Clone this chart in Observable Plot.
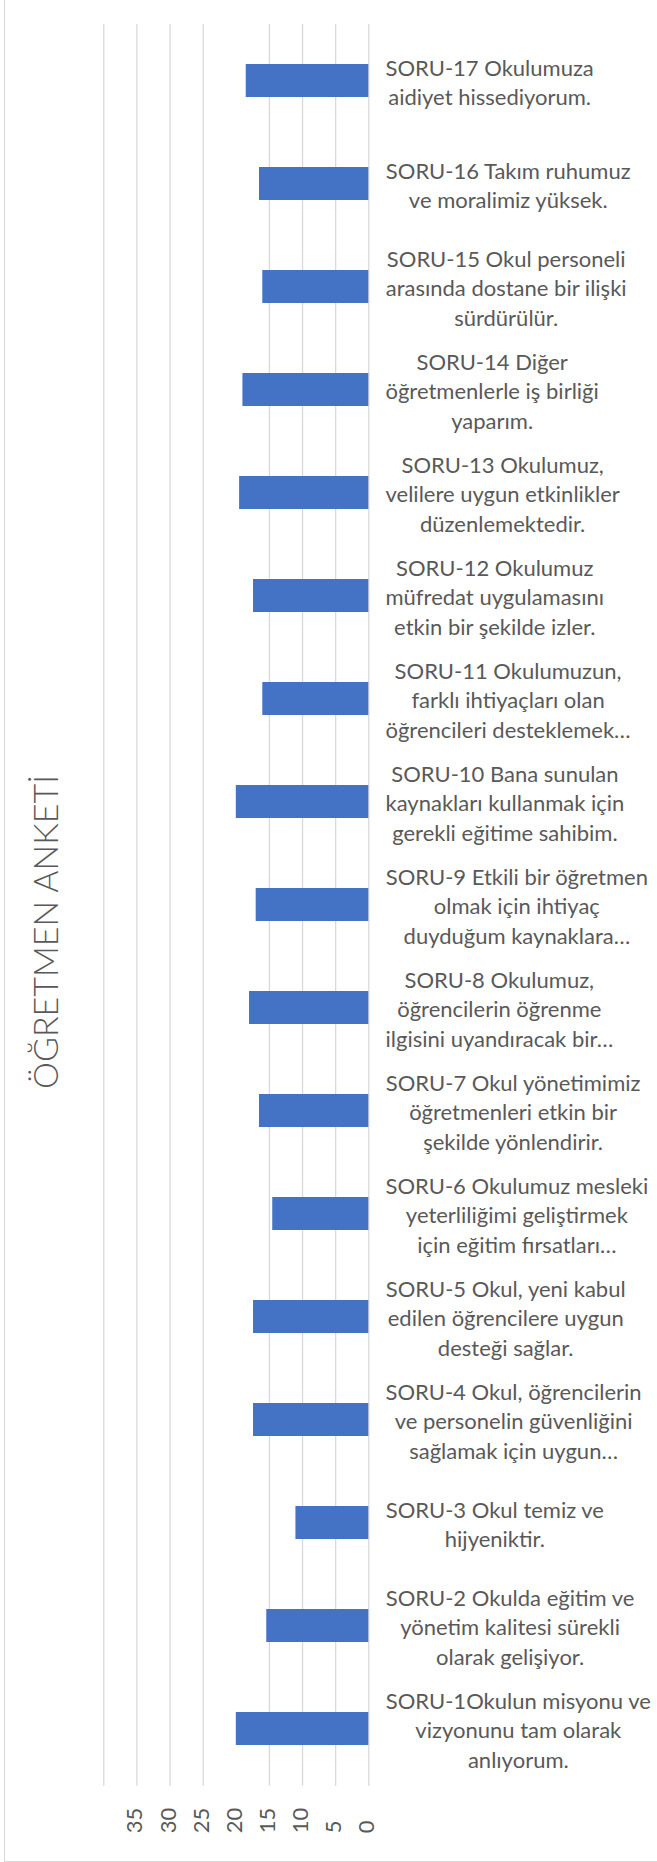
<!DOCTYPE html>
<html>
<head>
<meta charset="utf-8">
<script src="https://cdn.jsdelivr.net/npm/d3@7"></script>
<script src="https://cdn.jsdelivr.net/npm/@observablehq/plot@0.6"></script>
<style>
  html, body { margin: 0; padding: 0; background: #fff; }
  #wrap { position: relative; width: 657px; height: 1862px; overflow: hidden; background: #fff; }
  #frame { position: absolute; left: 4px; top: -4px; width: 720px; height: 1866px; box-sizing: border-box; border: 1px solid #d9d9d9; }
  #chart { position: absolute; left: 0; top: 0; }
</style>
</head>
<body>
<div id="wrap"><div id="frame"></div><div id="chart"></div></div>
<script>
// ---- data ----
const title = "ÖĞRETMEN ANKETİ";
const questions = [
  "SORU-1Okulun misyonu ve\nvizyonunu tam olarak\nanlıyorum.",
  "SORU-2 Okulda eğitim ve\nyönetim kalitesi sürekli\nolarak gelişiyor.",
  "SORU-3 Okul temiz ve\nhijyeniktir.",
  "SORU-4 Okul, öğrencilerin\nve personelin güvenliğini\nsağlamak için uygun…",
  "SORU-5 Okul, yeni kabul\nedilen öğrencilere uygun\ndesteği sağlar.",
  "SORU-6 Okulumuz mesleki\nyeterliliğimi geliştirmek\niçin eğitim fırsatları…",
  "SORU-7 Okul yönetimimiz\nöğretmenleri etkin bir\nşekilde yönlendirir.",
  "SORU-8 Okulumuz,\nöğrencilerin öğrenme\nilgisini uyandıracak bir…",
  "SORU-9 Etkili bir öğretmen\nolmak için ihtiyaç\nduyduğum kaynaklara…",
  "SORU-10 Bana sunulan\nkaynakları kullanmak için\ngerekli eğitime sahibim.",
  "SORU-11 Okulumuzun,\nfarklı ihtiyaçları olan\nöğrencileri desteklemek…",
  "SORU-12 Okulumuz\nmüfredat uygulamasını\netkin bir şekilde izler.",
  "SORU-13 Okulumuz,\nvelilere uygun etkinlikler\ndüzenlemektedir.",
  "SORU-14 Diğer\nöğretmenlerle iş birliği\nyaparım.",
  "SORU-15 Okul personeli\narasında dostane bir ilişki\nsürdürülür.",
  "SORU-16 Takım ruhumuz\nve moralimiz yüksek.",
  "SORU-17 Okulumuza\naidiyet hissediyorum."
];
const scores = [20, 15.4, 11, 17.4, 17.4, 14.5, 16.5, 18, 17, 20, 16, 17.4, 19.5, 19, 16, 16.5, 18.5];
const tickValues = [0, 5, 10, 15, 20, 25, 30, 35];
const gridValues = [0, 5, 10, 15, 25, 30, 35, 40];

// ---- layout ----
const W = 657, H = 1862;
const mLeft = 103.3, mRight = 288.7, mTop = 24, mBottom = 76.3;
const xMax = 40;
const ppu = (W - mRight - mLeft) / xMax;
const labelFont = "Lato, 'Open Sans', sans-serif";
const labelSize = 22;
const textColor = "#595959";

// measure label blocks so each block starts at a fixed left edge with lines centred within it
const ctx = document.createElement("canvas").getContext("2d");
ctx.font = `${labelSize}px Lato`;
const blockLeft = 385;
const data = questions.map((q, i) => {
  const maxW = d3.max(q.split("\n"), l => ctx.measureText(l).width);
  const centerPx = blockLeft + maxW / 2;
  return {q, score: scores[i], labelX: -(centerPx - (W - mRight)) / ppu};
});

const chart = Plot.plot({
  width: W,
  height: H,
  marginTop: mTop,
  marginBottom: mBottom,
  marginLeft: mLeft,
  marginRight: mRight,
  style: {fontFamily: labelFont, background: "transparent", overflow: "visible"},
  x: {domain: [0, xMax], reverse: true, axis: null},
  y: {domain: questions.slice().reverse(), axis: null, paddingInner: 0.68, paddingOuter: 0.34},
  marks: [
    Plot.gridX(gridValues, {stroke: "#d9d9d9", strokeOpacity: 1, strokeWidth: 1.3}),
    Plot.barX(data, {x: "score", y: "q", fill: "#4472C4"}),
    Plot.text(data, {
      x: "labelX", y: "q", text: "q",
      textAnchor: "middle", lineAnchor: "middle", lineHeight: 1.33,
      fontSize: labelSize, fill: textColor, clip: false
    }),
    Plot.text(tickValues, {
      x: d => d, text: d => String(d),
      frameAnchor: "bottom", dy: 47, dx: -1.5, rotate: -90,
      textAnchor: "start", lineAnchor: "middle",
      fontSize: 22, fill: textColor
    }),
    Plot.text([title], {
      frameAnchor: "left", dx: 47 - mLeft, dy: 26.6, rotate: -90,
      textAnchor: "middle", lineAnchor: "middle",
      fontSize: 34, fontWeight: 300, fill: textColor
    })
  ]
});
document.getElementById("chart").appendChild(chart);
</script>
</body>
</html>
